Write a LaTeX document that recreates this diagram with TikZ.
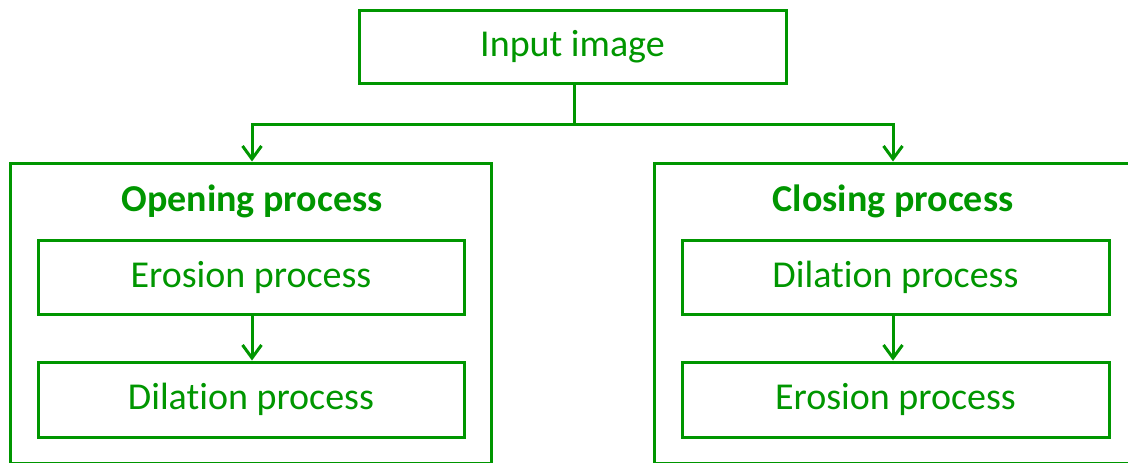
\documentclass[tikz,border=0pt]{standalone}
\usepackage{fontspec}
\setmainfont{Carlito}[Ligatures={NoCommon,NoRare,NoContextual}]
\usetikzlibrary{arrows.meta}
\definecolor{gr}{RGB}{0,150,0}
\begin{document}
\begin{tikzpicture}[x=1pt,y=-1pt,
  box/.style={draw=gr,line width=3pt,rectangle,inner sep=0pt,text=gr,font=\fontsize{38}{40}\selectfont},
  title/.style={text=gr,font=\bfseries\fontsize{38}{40}\selectfont,inner sep=0pt},
  conn/.style={draw=gr,line width=3pt},
  arr/.style={conn,-{Straight Barb[length=13pt,width=19pt]}}]
\useasboundingbox (0,0) rectangle (1128,463);
\clip (0,0) rectangle (1128,463);
\node[box,minimum width=427pt,minimum height=73pt] (in) at (572.5,46.5) {Input image};
% outer boxes
\node[box,minimum width=481pt,minimum height=300pt] (open) at (250.5,313) {};
\node[box,minimum width=486pt,minimum height=300pt] (close) at (897,313) {};
\node[title] (ot) at (252,201) {Opening process};
\node[title] (ct) at (893,201) {Closing process};
% inner boxes
\node[box,minimum width=426pt,minimum height=74pt] (e1) at (251,277) {Erosion process};
\node[box,minimum width=426pt,minimum height=75pt] (d1) at (251,399.5) {Dilation process};
\node[box,minimum width=427pt,minimum height=74pt] (d2) at (895.5,277) {Dilation process};
\node[box,minimum width=427pt,minimum height=75pt] (e2) at (895.5,399.5) {Erosion process};
\coordinate (jn) at (574,124);
\coordinate (jl) at (252,124);
\coordinate (jr) at (893,124);
\draw[conn] (in.south -| jn) -- (jn);
\draw[arr] (jn) -- (jl) -- (jl |- open.north);
\draw[arr] (jn) -- (jr) -- (jr |- close.north);
\draw[arr] (e1.south -| jl) -- (d1.north -| jl);
\draw[arr] (d2.south -| jr) -- (e2.north -| jr);
\end{tikzpicture}
\end{document}
